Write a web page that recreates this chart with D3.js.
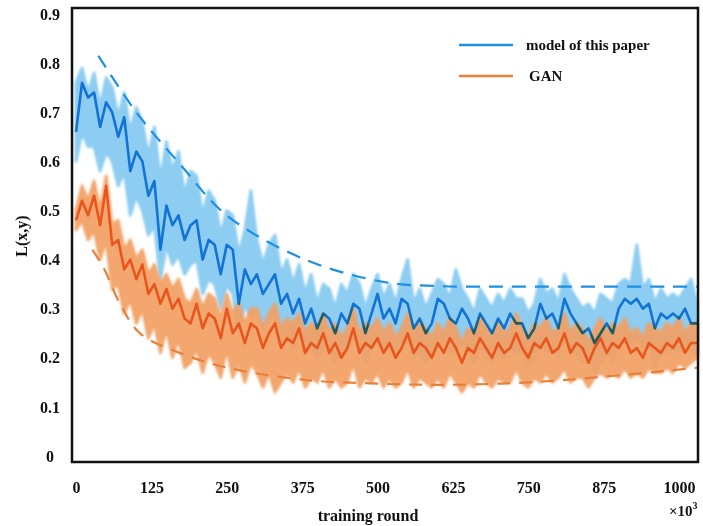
<!DOCTYPE html>
<html>
<head>
<meta charset="utf-8">
<script src="https://cdn.jsdelivr.net/npm/d3@7"></script>
<style>
  body { margin: 0; background: #fff; }
  text { font-family: "Liberation Serif", "Times New Roman", serif; font-weight: bold; fill: #111; }
</style>
</head>
<body>
<svg id="chart" width="703" height="526"></svg>
<script>
// training rounds (x10^3)
const rounds = d3.range(0, 1031, 10);

// model of this paper: smoothed loss and the spread of the raw loss
const modelLine = [
  0.66, 0.76, 0.73, 0.74, 0.67, 0.72, 0.70, 0.65, 0.69, 0.58,
  0.62, 0.60, 0.53, 0.56, 0.42, 0.51, 0.47, 0.49, 0.44, 0.47,
  0.48, 0.40, 0.44, 0.43, 0.37, 0.43, 0.42, 0.31, 0.38, 0.35,
  0.37, 0.33, 0.35, 0.37, 0.31, 0.33, 0.29, 0.32, 0.27, 0.30,
  0.26, 0.29, 0.28, 0.25, 0.29, 0.27, 0.31, 0.30, 0.25, 0.29,
  0.33, 0.28, 0.30, 0.27, 0.32, 0.31, 0.26, 0.28, 0.25, 0.27,
  0.32, 0.31, 0.28, 0.27, 0.30, 0.28, 0.25, 0.29, 0.27, 0.25,
  0.28, 0.26, 0.29, 0.27, 0.27, 0.24, 0.26, 0.31, 0.28, 0.29,
  0.26, 0.32, 0.29, 0.27, 0.25, 0.26, 0.23, 0.25, 0.27, 0.25,
  0.30, 0.32, 0.31, 0.32, 0.30, 0.31, 0.26, 0.29, 0.28, 0.29,
  0.28, 0.30, 0.27, 0.27
];
const modelHigh = [
  0.76, 0.79, 0.74, 0.78, 0.71, 0.77, 0.75, 0.69, 0.74, 0.66,
  0.71, 0.68, 0.61, 0.67, 0.56, 0.64, 0.58, 0.62, 0.53, 0.58,
  0.57, 0.49, 0.54, 0.52, 0.45, 0.50, 0.49, 0.41, 0.46, 0.54,
  0.44, 0.39, 0.43, 0.45, 0.37, 0.40, 0.35, 0.39, 0.33, 0.37,
  0.31, 0.35, 0.34, 0.30, 0.35, 0.33, 0.37, 0.35, 0.30, 0.34,
  0.37, 0.32, 0.35, 0.31, 0.36, 0.40, 0.31, 0.34, 0.30, 0.33,
  0.36, 0.35, 0.32, 0.38, 0.34, 0.32, 0.29, 0.34, 0.32, 0.30,
  0.33, 0.31, 0.34, 0.32, 0.32, 0.29, 0.31, 0.36, 0.33, 0.34,
  0.31, 0.37, 0.34, 0.32, 0.30, 0.31, 0.29, 0.33, 0.32, 0.31,
  0.35, 0.36, 0.35, 0.43, 0.34, 0.36, 0.31, 0.34, 0.32, 0.33,
  0.32, 0.34, 0.36, 0.31
];
const modelLow = [
  0.60, 0.66, 0.63, 0.63, 0.58, 0.62, 0.60, 0.55, 0.58, 0.49,
  0.53, 0.50, 0.45, 0.47, 0.36, 0.43, 0.39, 0.41, 0.37, 0.39,
  0.40, 0.33, 0.36, 0.35, 0.30, 0.35, 0.33, 0.25, 0.31, 0.28,
  0.30, 0.26, 0.28, 0.29, 0.24, 0.26, 0.22, 0.25, 0.21, 0.23,
  0.20, 0.22, 0.21, 0.19, 0.22, 0.21, 0.24, 0.23, 0.19, 0.22,
  0.25, 0.21, 0.23, 0.21, 0.24, 0.23, 0.20, 0.21, 0.19, 0.21,
  0.24, 0.23, 0.21, 0.21, 0.23, 0.21, 0.19, 0.22, 0.21, 0.19,
  0.21, 0.20, 0.22, 0.21, 0.21, 0.18, 0.20, 0.23, 0.21, 0.22,
  0.20, 0.24, 0.22, 0.21, 0.19, 0.20, 0.17, 0.19, 0.21, 0.19,
  0.23, 0.24, 0.23, 0.24, 0.22, 0.23, 0.18, 0.21, 0.21, 0.22,
  0.21, 0.23, 0.21, 0.21
];

// GAN: smoothed loss and the spread of the raw loss
const ganLine = [
  0.48, 0.52, 0.49, 0.53, 0.47, 0.55, 0.43, 0.44, 0.38, 0.40,
  0.36, 0.39, 0.33, 0.35, 0.31, 0.34, 0.30, 0.32, 0.28, 0.27,
  0.31, 0.26, 0.29, 0.28, 0.24, 0.30, 0.25, 0.27, 0.23, 0.27,
  0.26, 0.22, 0.25, 0.27, 0.22, 0.24, 0.23, 0.26, 0.21, 0.23,
  0.22, 0.25, 0.21, 0.23, 0.20, 0.22, 0.26, 0.21, 0.23, 0.22,
  0.24, 0.21, 0.23, 0.20, 0.22, 0.25, 0.21, 0.23, 0.22, 0.20,
  0.23, 0.21, 0.24, 0.22, 0.19, 0.22, 0.21, 0.24, 0.22, 0.20,
  0.23, 0.21, 0.22, 0.25, 0.22, 0.20, 0.23, 0.22, 0.24, 0.21,
  0.22, 0.25, 0.21, 0.23, 0.22, 0.19, 0.22, 0.24, 0.21, 0.23,
  0.22, 0.24, 0.21, 0.22, 0.20, 0.23, 0.22, 0.21, 0.23, 0.22,
  0.24, 0.21, 0.23, 0.23
];
const ganHigh = [
  0.50, 0.55, 0.52, 0.56, 0.50, 0.57, 0.47, 0.48, 0.42, 0.44,
  0.40, 0.42, 0.37, 0.39, 0.35, 0.37, 0.34, 0.36, 0.32, 0.31,
  0.34, 0.30, 0.33, 0.32, 0.28, 0.33, 0.29, 0.31, 0.27, 0.30,
  0.30, 0.26, 0.29, 0.31, 0.26, 0.28, 0.27, 0.29, 0.25, 0.27,
  0.26, 0.29, 0.25, 0.27, 0.24, 0.26, 0.30, 0.25, 0.27, 0.26,
  0.28, 0.25, 0.27, 0.24, 0.26, 0.29, 0.25, 0.27, 0.26, 0.24,
  0.27, 0.25, 0.28, 0.26, 0.23, 0.26, 0.25, 0.28, 0.26, 0.24,
  0.27, 0.25, 0.26, 0.29, 0.26, 0.24, 0.27, 0.26, 0.28, 0.25,
  0.26, 0.29, 0.25, 0.27, 0.26, 0.23, 0.26, 0.28, 0.25, 0.27,
  0.26, 0.28, 0.25, 0.26, 0.24, 0.27, 0.26, 0.25, 0.27, 0.26,
  0.28, 0.25, 0.27, 0.27
];
const ganLow = [
  0.46, 0.48, 0.44, 0.46, 0.40, 0.44, 0.34, 0.35, 0.29, 0.32,
  0.27, 0.30, 0.24, 0.27, 0.21, 0.26, 0.20, 0.24, 0.18, 0.19,
  0.22, 0.17, 0.21, 0.19, 0.16, 0.22, 0.16, 0.19, 0.15, 0.19,
  0.17, 0.14, 0.17, 0.13, 0.15, 0.17, 0.15, 0.18, 0.14, 0.16,
  0.15, 0.18, 0.14, 0.16, 0.14, 0.15, 0.19, 0.14, 0.16, 0.15,
  0.17, 0.14, 0.16, 0.14, 0.15, 0.18, 0.14, 0.16, 0.15, 0.14,
  0.16, 0.14, 0.17, 0.15, 0.13, 0.15, 0.14, 0.17, 0.15, 0.14,
  0.16, 0.15, 0.15, 0.18, 0.15, 0.14, 0.16, 0.15, 0.17, 0.15,
  0.16, 0.18, 0.15, 0.16, 0.16, 0.14, 0.16, 0.17, 0.16, 0.17,
  0.16, 0.18, 0.16, 0.17, 0.16, 0.18, 0.17, 0.17, 0.18, 0.17,
  0.19, 0.18, 0.19, 0.20
];

// dashed envelope curves
const modelEnvX = [37, 100, 172, 250, 380, 512, 600, 700, 850, 1032];
const modelEnvY = [0.815, 0.70, 0.595, 0.49, 0.40, 0.354, 0.346, 0.345, 0.345, 0.345];
const ganEnvX = [27, 45, 73, 106, 172, 250, 380, 512, 620, 750, 880, 1032];
const ganEnvY = [0.42, 0.385, 0.31, 0.25, 0.21, 0.18, 0.155, 0.147, 0.145, 0.15, 0.162, 0.18];

const xTicks = [0, 125, 250, 375, 500, 625, 750, 875, 1000];
const yTicks = [0, 0.1, 0.2, 0.3, 0.4, 0.5, 0.6, 0.7, 0.8, 0.9];
const legendNames = ["model of this paper", "GAN"];

const svg = d3.select("#chart");
const x = d3.scaleLinear().domain([0, 1000]).range([76, 679]);
const y = d3.scaleLinear().domain([0, 0.9]).range([456, 14]);

const lineGen = d3.line().x(d => x(d[0])).y(d => y(d[1]));
const smooth = d3.line().x(d => x(d[0])).y(d => y(d[1])).curve(d3.curveCatmullRom);
const band = d3.area().x(d => x(d[0])).y0(d => y(d[1])).y1(d => y(d[2]));
const zip = (xs, ys) => xs.map((v, i) => [v, ys[i]]);
const zip3 = (xs, lo, hi) => xs.map((v, i) => [v, lo[i], hi[i]]);

const defs = svg.append("defs");
defs.append("filter").attr("id", "soft")
  .append("feGaussianBlur").attr("stdDeviation", 0.9);

const plot = svg.append("g");

// raw loss spread
plot.append("path")
    .attr("d", band(zip3(rounds, modelLow, modelHigh)))
    .attr("fill", "#8dcdf2")
    .attr("stroke", "#8dcdf2")
    .attr("stroke-width", 3)
    .attr("stroke-linejoin", "round")
    .attr("filter", "url(#soft)");

plot.append("path")
    .attr("d", band(zip3(rounds, ganLow, ganHigh)))
    .attr("fill", "#f2a064")
    .attr("stroke", "#f2a064")
    .attr("stroke-width", 3)
    .attr("stroke-linejoin", "round")
    .attr("opacity", 0.92)
    .attr("filter", "url(#soft)");

// smoothed loss lines
plot.append("path")
    .attr("d", lineGen(zip(rounds, modelLine)))
    .attr("fill", "none")
    .attr("stroke", "#1e8fe1")
    .attr("stroke-width", 2.6)
    .attr("stroke-linejoin", "round")
    .style("mix-blend-mode", "multiply");

plot.append("path")
    .attr("d", lineGen(zip(rounds, ganLine)))
    .attr("fill", "none")
    .attr("stroke", "#e8561e")
    .attr("stroke-width", 2.6)
    .attr("stroke-linejoin", "round");

// envelopes
plot.append("path")
    .attr("d", smooth(zip(modelEnvX, modelEnvY)))
    .attr("fill", "none")
    .attr("stroke", "#1e8fe1")
    .attr("stroke-width", 2.2)
    .attr("stroke-dasharray", "14,9");

plot.append("path")
    .attr("d", smooth(zip(ganEnvX, ganEnvY)))
    .attr("fill", "none")
    .attr("stroke", "#e8803a")
    .attr("stroke-width", 2.2)
    .attr("stroke-dasharray", "13,9");

// frame
svg.append("rect")
    .attr("x", 72).attr("y", 8)
    .attr("width", 626).attr("height", 454)
    .attr("fill", "none")
    .attr("stroke", "#111")
    .attr("stroke-width", 2.5);

// axes (labels only)
const xAxis = svg.append("g")
    .attr("transform", "translate(0,482)")
    .call(d3.axisBottom(x).tickValues(xTicks).tickSize(0).tickPadding(0)
        .tickFormat(d3.format("d")));
xAxis.select(".domain").remove();
xAxis.selectAll("text")
    .attr("font-size", 16)
    .attr("dy", "0.71em")
    .attr("font-family", null);

const yAxis = svg.append("g")
    .attr("transform", "translate(50,0)")
    .call(d3.axisLeft(y).tickValues(yTicks).tickSize(0)
        .tickFormat(d => d === 0 ? "0" : d.toFixed(1)));
yAxis.select(".domain").remove();
yAxis.selectAll("text")
    .attr("x", 0)
    .attr("text-anchor", "middle")
    .attr("font-size", 16)
    .attr("font-family", null);

// axis titles
svg.append("text")
    .attr("x", 368).attr("y", 521)
    .attr("text-anchor", "middle")
    .attr("font-size", 16)
    .text("training round");

svg.append("text")
    .attr("transform", "translate(27,236) rotate(-90)")
    .attr("text-anchor", "middle")
    .attr("font-size", 16)
    .text("L(x,y)");

const unit = svg.append("text")
    .attr("x", 669).attr("y", 516)
    .attr("font-size", 15);
unit.append("tspan").text("×10");
unit.append("tspan").attr("font-size", 10).attr("dy", -7).text("3");

// legend
const legend = svg.append("g");
const legendColors = ["#1e8fe1", "#e8803a"];
const legendY = [45, 76];
const legendTextX = [526, 529];
legendNames.forEach((name, i) => {
  legend.append("line")
      .attr("x1", 459).attr("x2", 513)
      .attr("y1", legendY[i]).attr("y2", legendY[i])
      .attr("stroke", legendColors[i])
      .attr("stroke-width", 2.5);
  legend.append("text")
      .attr("x", legendTextX[i]).attr("y", legendY[i] + 5)
      .attr("font-size", 15)
      .text(name);
});
</script>
</body>
</html>
